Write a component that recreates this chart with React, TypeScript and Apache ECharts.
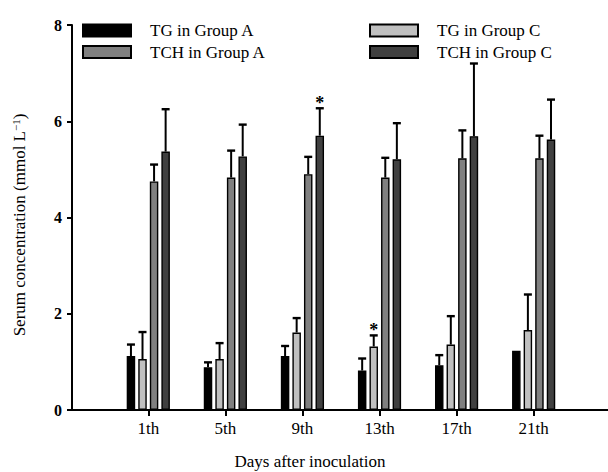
import React, { useEffect, useRef } from 'react';
import * as echarts from 'echarts';

// ---------- data ----------
const categories = ['1th', '5th', '9th', '13th', '17th', '21th'];
const seriesNames = ['TG in Group A', 'TG in Group C', 'TCH in Group A', 'TCH in Group C'];
const tgA = [1.12, 0.89, 1.12, 0.82, 0.93, 1.23];
const tgAErr = [0.24, 0.10, 0.21, 0.25, 0.21, 0];
const tgC = [1.06, 1.06, 1.61, 1.32, 1.36, 1.66];
const tgCErr = [0.56, 0.33, 0.30, 0.23, 0.59, 0.74];
const tchA = [4.75, 4.83, 4.90, 4.83, 5.23, 5.23];
const tchAErr = [0.35, 0.56, 0.36, 0.41, 0.58, 0.47];
const tchC = [5.37, 5.27, 5.70, 5.21, 5.69, 5.62];
const tchCErr = [0.88, 0.66, 0.57, 0.75, 1.51, 0.83];
// significance marks (*) per series, per category
const tgASig = [0, 0, 0, 0, 0, 0];
const tgCSig = [0, 0, 0, 1, 0, 0];
const tchASig = [0, 0, 0, 0, 0, 0];
const tchCSig = [0, 0, 1, 0, 0, 0];
const yTicks = [0, 2, 4, 6, 8];
const xTitle = 'Days after inoculation';
const yTitleMain = 'Serum concentration (mmol L';
const yTitleSup = '\u22121';
const yTitleEnd = ')';

// ---------- style ----------
const FONT = '"Liberation Serif", "Times New Roman", serif';
const colors = ['#000000', '#c0c0c0', '#808080', '#404040'];
const BAR_W = 8.5;
const BAR_GAP = 0.36; // ratio
const PITCH = BAR_W * (1 + BAR_GAP);

const values = [tgA, tgC, tchA, tchC];
const errs = [tgAErr, tgCErr, tchAErr, tchCErr];
const sigs = [tgASig, tgCSig, tchASig, tchCSig];

export default function App() {
  const ref = useRef<HTMLDivElement>(null);
  useEffect(() => {
    document.body.style.margin = '0';
    if (!ref.current) return;
    const chart = echarts.init(ref.current, null, { renderer: 'svg' });

    const barSeries = seriesNames.map((name, k) => ({
      type: 'bar',
      name,
      xAxisIndex: 0,
      yAxisIndex: 0,
      data: values[k],
      barWidth: BAR_W,
      barGap: BAR_GAP * 100 + '%',
      itemStyle: { color: colors[k], borderColor: '#000', borderWidth: 1.4 },
      z: 2,
    }));

    const errSeries = seriesNames.map((name, k) => ({
      type: 'custom',
      name: 'err-' + name,
      xAxisIndex: 0,
      yAxisIndex: 0,
      z: 3,
      encode: { x: 0, y: 1 },
      data: categories.map((_, i) => [i, values[k][i], errs[k][i], sigs[k][i]]),
      renderItem: (params: any, api: any) => {
        const idx = api.value(0);
        const v = api.value(1);
        const e = api.value(2);
        const s = api.value(3);
        const base = api.coord([idx, v]);
        const top = api.coord([idx, v + e]);
        const x = base[0] + (k - 1.5) * PITCH;
        const children: any[] = [];
        if (e > 0) {
          children.push({
            type: 'line',
            shape: { x1: x, y1: base[1], x2: x, y2: top[1] },
            style: { stroke: '#000', lineWidth: 2 },
          });
          children.push({
            type: 'line',
            shape: { x1: x - 4, y1: top[1], x2: x + 4, y2: top[1] },
            style: { stroke: '#000', lineWidth: 2.4 },
          });
        }
        if (s) {
          children.push({
            type: 'text',
            style: {
              x,
              y: top[1] - 5,
              text: '*',
              fontFamily: FONT,
              fontWeight: 'bold',
              fontSize: 18,
              fill: '#000',
              align: 'center',
              verticalAlign: 'middle',
            },
          });
        }
        return { type: 'group', children };
      },
    }));

    const legendCommon = {
      orient: 'vertical',
      top: 17,
      itemWidth: 48,
      itemHeight: 12,
      itemGap: 4.5,
      icon: 'rect',
      selectedMode: false,
      itemStyle: { borderColor: '#000', borderWidth: 2 },
      textStyle: { fontFamily: FONT, fontSize: 17, color: '#000', lineHeight: 16, padding: [0, 0, 0, 14] },
    };

    chart.setOption({
      animation: false,
      backgroundColor: '#fff',
      grid: [
        { left: 109.75, right: 35.8, top: 25, bottom: 62 },
        { left: 72, right: 0, top: 25, bottom: 62 },
      ],
      legend: [
        { ...legendCommon, left: 77, data: [seriesNames[0], seriesNames[2]] },
        { ...legendCommon, left: 364, data: [seriesNames[1], seriesNames[3]] },
      ],
      xAxis: [
        {
          type: 'category',
          gridIndex: 0,
          data: categories,
          axisLine: { show: false },
          axisTick: { show: true, alignWithLabel: true, length: 6, lineStyle: { color: '#000', width: 2 } },
          axisLabel: { fontFamily: FONT, fontSize: 17, color: '#000', margin: 10 },
          splitLine: { show: false },
        },
        {
          type: 'value',
          gridIndex: 1,
          min: 0,
          max: 1,
          axisLine: { show: true, lineStyle: { color: '#000', width: 2 } },
          axisTick: { show: false },
          axisLabel: { show: false },
          splitLine: { show: false },
        },
      ],
      yAxis: [
        { type: 'value', gridIndex: 0, min: yTicks[0], max: yTicks[yTicks.length - 1], interval: 2, show: false },
        {
          type: 'value',
          gridIndex: 1,
          min: yTicks[0],
          max: yTicks[yTicks.length - 1],
          interval: yTicks[1] - yTicks[0],
          axisLine: { show: true, lineStyle: { color: '#000', width: 2 } },
          axisTick: { show: true, length: 5, lineStyle: { color: '#000', width: 2 } },
          axisLabel: { fontFamily: FONT, fontSize: 16, fontWeight: 'bold', color: '#000', margin: 10 },
          splitLine: { show: false },
        },
      ],
      graphic: [
        {
          type: 'text',
          x: 310,
          y: 461,
          style: { text: xTitle, fontFamily: FONT, fontSize: 17, fill: '#000', align: 'center', verticalAlign: 'middle' },
        },
        {
          type: 'text',
          x: 19.5,
          y: 225,
          rotation: Math.PI / 2,
          style: {
            text: '{a|' + yTitleMain + '}{s|' + yTitleSup + '}{a|' + yTitleEnd + '}',
            fontFamily: FONT,
            fill: '#000',
            align: 'center',
            verticalAlign: 'middle',
            rich: {
              a: { fontFamily: FONT, fontSize: 17, lineHeight: 18, fill: '#000' },
              s: { fontFamily: FONT, fontSize: 11, lineHeight: 11, verticalAlign: 'top', fill: '#000' },
            },
          },
        },
      ],
      series: [...barSeries, ...errSeries],
    });
    return () => chart.dispose();
  }, []);
  return <div ref={ref} style={{ width: 608, height: 472 }} />;
}
